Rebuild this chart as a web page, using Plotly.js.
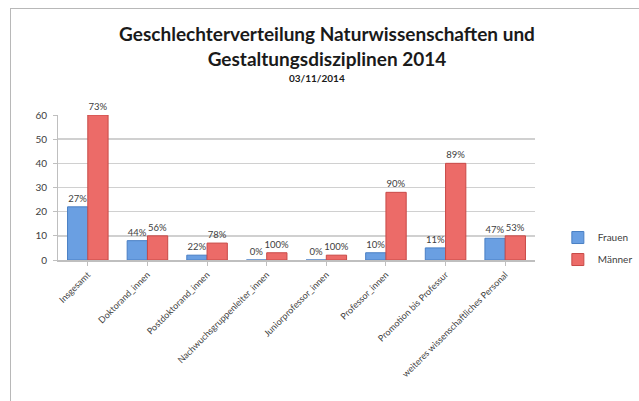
<!DOCTYPE html>
<html>
<head>
<meta charset="utf-8">
<script src="https://cdn.plot.ly/plotly-3.0.1.min.js"></script>
<style>
  html, body { margin: 0; padding: 0; background: #fff; }
  #wrap { position: relative; width: 639px; height: 401px; overflow: hidden; }
  #chart { position: absolute; left: 0; top: 0; width: 639px; height: 401px; }
  #bt { position: absolute; left: 10px; top: 8px; width: 629px; height: 1px; background: #b8b8b8; }
  #bl { position: absolute; left: 10px; top: 8px; width: 1px; height: 393px; background: #b8b8b8; }
</style>
</head>
<body>
<div id="wrap">
  <div id="chart"></div>
  <div id="bt"></div>
  <div id="bl"></div>
</div>
<script>
const categories = [
  "Insgesamt",
  "Doktorand_innen",
  "Postdoktorand_innen",
  "Nachwuchsgruppenleiter_innen",
  "Juniorprofessor_innen",
  "Professor_innen",
  "Promotion bis Professur",
  "weiteres wissenschaftliches Personal"
];
const frauen = [22, 8, 2, 0, 0, 3, 5, 9];
const maenner = [60, 10, 7, 3, 2, 28, 40, 10];
const yTicks = [0, 10, 20, 30, 40, 50, 60];
const chartTitle = "Geschlechterverteilung Naturwissenschaften und<br>Gestaltungsdisziplinen 2014";
const chartDate = "03/11/2014";

function pct(a, b) {
  return a.map((v, i) => Math.round(v / (v + b[i]) * 100) + "%");
}

const font = "Lato, 'Open Sans', sans-serif";

const traces = [
  {
    type: "bar", name: "Frauen", x: categories, y: frauen,
    text: pct(frauen, maenner), textposition: "outside", constraintext: "none",
    textfont: { family: font, size: 9.5, color: "#404040" },
    marker: { color: "#6a9fe2", line: { color: "#4a7fc4", width: 1 } },
    cliponaxis: false, legendgroup: "f"
  },
  {
    type: "bar", name: "Männer", x: categories, y: maenner,
    text: pct(maenner, frauen), textposition: "outside", constraintext: "none",
    textfont: { family: font, size: 9.5, color: "#404040" },
    marker: { color: "#ec6b68", line: { color: "#c84a47", width: 1 } },
    cliponaxis: false, legendgroup: "m"
  }
];

const layout = {
  width: 639, height: 401,
  margin: { l: 58, r: 104, t: 115, b: 141, autoexpand: false },
  paper_bgcolor: "#ffffff", plot_bgcolor: "#ffffff",
  font: { family: font, size: 10, color: "#404040" },
  title: {
    text: "<b>" + chartTitle + "</b>",
    font: { family: font, size: 19, color: "#1a1a1a" },
    x: 327 / 639, xanchor: "center", xref: "container",
    y: 0.898, yanchor: "top"
  },
  annotations: [{
    text: "<b>" + chartDate + "</b>", xref: "paper", yref: "paper",
    x: (317 - 58) / 477, y: 1 + (115 - 78) / 145, xanchor: "center", yanchor: "middle",
    showarrow: false, font: { family: font, size: 10, color: "#1a1a1a" }
  }],
  barmode: "group",
  bargap: 0.32, bargroupgap: 0.0,
  xaxis: {
    type: "category", tickangle: -45,
    tickfont: { family: font, size: 9, color: "#404040" },
    showline: true, linecolor: "#bfbfbf", linewidth: 2,
    ticks: "outside", tickcolor: "#bfbfbf", ticklen: 4,
    showgrid: false
  },
  yaxis: {
    range: [0, 60], tickvals: yTicks,
    tickfont: { family: font, size: 10, color: "#404040" },
    showgrid: true, gridcolor: "#d0d0d0", gridwidth: 1.5,
    showline: true, linecolor: "#bfbfbf",
    ticks: "outside", tickcolor: "#bfbfbf", ticklen: 4,
    ticklabelstandoff: 4, zeroline: false
  },
  legend: {
    xref: "container", x: 0.873, xanchor: "left", y: 0.255, yanchor: "top",
    font: { family: font, size: 10, color: "#404040" },
    tracegroupgap: 3, traceorder: "grouped", itemwidth: 30,
    bgcolor: "rgba(0,0,0,0)"
  }
};

Plotly.newPlot("chart", traces, layout, { displayModeBar: false, staticPlot: true });
</script>
</body>
</html>
